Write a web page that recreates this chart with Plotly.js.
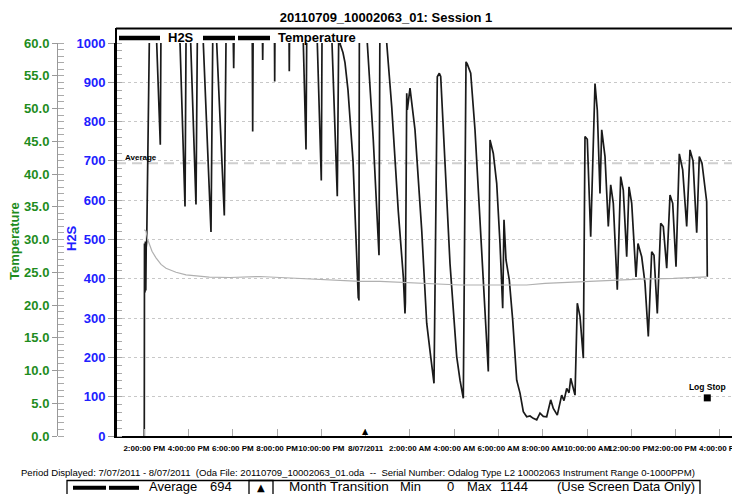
<!DOCTYPE html>
<html><head><meta charset="utf-8">
<script src="https://cdn.plot.ly/plotly-3.0.1.min.js"></script>
<style>html,body{margin:0;padding:0;background:#fff;}#chart{width:732px;height:494px;}</style>
</head><body><div id="chart"></div>
<script>
const chartTitle = '20110709_10002063_01: Session 1';
// hours since 7/07/2011 00:00
const timeHours = [
14.000,14.009,14.032,14.050,14.068,14.086,14.108,14.226,14.348,
14.560,14.723,14.750,15.161,
15.613,15.839,15.884,15.974,
16.096,16.335,16.394,16.516,
16.665,17.013,17.090,17.148,
17.270,17.614,17.690,17.826,
18.020,18.038,18.052,18.458,
18.878,18.896,18.914,19.136,
19.339,19.348,19.357,19.588,
19.881,19.890,19.899,20.220,
20.540,20.549,20.558,20.852,
21.182,21.304,21.335,21.575,
21.814,21.995,22.026,22.252,
22.478,22.717,22.781,22.862,22.975,23.065,23.201,23.427,23.594,23.666,23.680,23.693,23.716,23.924,
24.072,24.343,24.601,24.646,24.781,
24.949,25.175,25.473,25.699,25.775,25.793,25.853,25.880,26.001,26.227,26.530,26.756,26.936,27.085,
27.234,27.325,27.388,27.582,27.808,28.111,28.260,28.409,
28.531,28.590,28.743,28.937,29.240,29.434,29.538,
29.615,29.764,29.917,30.066,30.188,
30.247,30.337,30.486,30.640,30.699,30.821,30.970,31.119,31.272,31.421,31.570,31.724,31.873,32.022,32.175,
32.356,32.474,32.654,32.853,32.957,33.079,33.183,33.260,33.377,33.454,
33.558,33.680,33.829,33.905,34.009,34.163,34.357,34.461,34.583,34.660,34.809,34.958,
35.066,35.184,35.364,35.518,35.635,35.789,35.893,36.015,36.209,36.299,36.466,36.615,36.765,
36.918,37.022,37.171,37.325,37.442,37.596,37.745,37.867,38.016,38.165,38.318,38.499,
38.648,38.784,38.951,39.068,39.190,39.402,39.429
];
const h2sPpm = [
0,490,365,495,370,480,495,1000,1144,
1000,741,1000,1144,
1000,584,1000,1144,
1000,589,1000,1144,
1000,519,1000,1144,
1000,561,1000,1144,
1000,936,1000,1144,
1000,775,1000,1144,
1000,957,1000,1144,
1000,902,1000,1144,
1000,928,1000,1144,
1000,729,1000,1144,
1000,650,1000,1144,
1000,610,1020,995,975,950,880,700,480,350,385,345,1100,1144,
1000,753,460,1100,1144,
1000,838,571,405,312,340,872,830,885,779,524,287,202,134,
914,923,915,694,439,202,142,96,
952,946,923,779,482,270,164,
753,719,643,490,325,
550,448,397,295,240,142,109,62,49,51,45,41,58,50,49,
92,70,53,104,90,121,110,147,117,104,
338,304,198,762,755,507,897,829,617,779,711,533,
639,592,372,660,626,456,634,592,405,490,456,389,253,
469,460,312,541,533,427,613,592,431,718,677,533,
728,700,517,711,694,596,405
];
const tempTimeHours = [14.000,14.077,14.154,14.226,14.348,14.529,14.755,14.980,15.432,15.884,16.516,16.936,17.871,19.226,20.129,21.033,21.936,22.839,23.743,24.646,25.685,26.904,28.260,30.066,31.272,32.099,32.776,34.131,35.486,36.389,37.894,39.402];
const temperatureC = [31.5,31.3,30.0,29.2,28.2,27.2,26.2,25.6,25.0,24.6,24.4,24.25,24.2,24.35,24.2,24.05,23.8,23.7,23.6,23.6,23.45,23.2,23.05,23.05,23.05,23.3,23.4,23.7,23.8,23.95,24.05,24.3];
const tickHours = [14,16,18,20,22,24,26,28,30,32,34,36,38,40];
const tickLabels = ['2:00:00 PM','4:00:00 PM','6:00:00 PM','8:00:00 PM','10:00:00 PM','8/07/2011','2:00:00 AM','4:00:00 AM','6:00:00 AM','8:00:00 AM','10:00:00 AM','12:00:00 PM','2:00:00 PM','4:00:00 PM'];
const averagePpm = 694;
const minPpm = 0;
const maxPpm = 1144;
const monthTransitionHour = 24;
const logStopHour = 39.429;
const logStopPpm = 97;
const periodText = 'Period Displayed: 7/07/2011 - 8/07/2011  (Oda File: 20110709_10002063_01.oda  --  Serial Number: Odalog Type L2 10002063 Instrument Range 0-1000PPM)';

const W = 732, H = 494;
const PX = p => p / W;
const PY = p => (436 - p) / 393;
const FONT = 'Liberation Sans, Arial, Helvetica, sans-serif';
const GREEN = '#1e8c1e', BLUE = '#2020ff';

const traces = [
  {x: tempTimeHours, y: temperatureC, yaxis: 'y2', type: 'scatter', mode: 'lines',
   line: {color: '#b0b0b0', width: 1.2}, showlegend: false, hoverinfo: 'skip'},
  {x: timeHours, y: h2sPpm, type: 'scatter', mode: 'lines',
   line: {color: '#1a1a1a', width: 1.7}, showlegend: false, hoverinfo: 'skip'},
  {x: [logStopHour], y: [logStopPpm], type: 'scatter', mode: 'markers+text',
   marker: {symbol: 'square', size: 7, color: '#000'}, text: ['Log Stop'], textposition: 'top center',
   textfont: {family: FONT, size: 8.5, weight: 'bold', color: '#000'}, cliponaxis: false, showlegend: false}
];

const txt = (s, x, y, size, opts) => Object.assign({text: s, x: x, y: y, xref: 'paper', yref: 'paper',
  xanchor: 'left', yanchor: 'middle', showarrow: false, font: {family: FONT, size: size, color: '#000'}}, opts || {});

const BOXTOP = 480.5, ROW = 486.8, BS = 13;

const layout = {
  width: W, height: H,
  margin: {l: 0, r: 0, t: 43, b: 58, pad: 0},
  paper_bgcolor: '#fff', plot_bgcolor: '#fff',
  showlegend: false,
  title: {text: chartTitle, font: {family: FONT, size: 13, weight: 'bold', color: '#000'},
          x: 386 / W, xanchor: 'center', xref: 'container', y: 1 - 17 / H, yanchor: 'middle', yref: 'container'},
  xaxis: {domain: [116 / W, 1], range: [12.722, 40.545], tickmode: 'array', tickvals: tickHours, ticktext: tickLabels,
          ticks: 'inside', ticklen: 7, tickcolor: '#aaa', tickwidth: 1, showline: true, linecolor: '#000', linewidth: 2,
          showgrid: false, zeroline: false, tickangle: 0, ticklabelstandoff: 3, ticklabeloverflow: 'allow',
          tickfont: {family: FONT, size: 8, weight: 'bold', color: '#000'}},
  yaxis: {range: [0, 1000], dtick: 100, tick0: 0, showline: true, linecolor: '#000', linewidth: 2,
          ticks: 'outside', ticklen: 6, tickcolor: '#999', tickwidth: 1,
          minor: {dtick: 20, ticks: 'inside', ticklen: 6, tickcolor: '#aaa', tickwidth: 1, showgrid: false},
          showgrid: true, gridcolor: '#c8c8c8', gridwidth: 1, griddash: '3px,3px', zeroline: false,
          tickfont: {family: FONT, size: 13, weight: 'bold', color: BLUE}},
  yaxis2: {overlaying: 'y', anchor: 'free', position: 57 / W, side: 'left', range: [0, 60], dtick: 5, tick0: 0,
           tickformat: '.1f', showline: true, linecolor: '#999', linewidth: 1,
           ticks: 'outside', ticklen: 5, tickcolor: '#999', tickwidth: 1,
           minor: {dtick: 1, ticks: 'inside', ticklen: 6, tickcolor: '#aaa', tickwidth: 1, showgrid: false},
           showgrid: false, zeroline: false,
           tickfont: {family: FONT, size: 13, weight: 'bold', color: GREEN}},
  shapes: [
    {type: 'line', xref: 'x domain', yref: 'y', x0: 0, x1: 1, y0: averagePpm, y1: averagePpm, layer: 'below',
     line: {color: '#cfcfcf', width: 2, dash: '10px,6px'}},
    {type: 'line', xref: 'paper', yref: 'paper', x0: PX(116), x1: 1, y0: PY(28.5), y1: PY(28.5), line: {color: '#000', width: 2}},
    {type: 'line', xref: 'paper', yref: 'paper', x0: PX(116), x1: PX(116), y0: PY(437), y1: PY(28), line: {color: '#000', width: 2}},
    {type: 'line', xref: 'paper', yref: 'paper', x0: PX(119), x1: PX(160), y0: PY(38), y1: PY(38), line: {color: '#000', width: 4.5}},
    {type: 'line', xref: 'paper', yref: 'paper', x0: PX(203), x1: PX(235), y0: PY(38), y1: PY(38), line: {color: '#000', width: 4.5}},
    {type: 'line', xref: 'paper', yref: 'paper', x0: PX(238), x1: PX(270), y0: PY(38), y1: PY(38), line: {color: '#000', width: 4.5}},
    {type: 'rect', xref: 'paper', yref: 'paper', x0: PX(67), x1: PX(700), y0: PY(BOXTOP), y1: PY(500), line: {color: '#000', width: 1.3}},
    {type: 'rect', xref: 'paper', yref: 'paper', x0: PX(249), x1: PX(273), y0: PY(BOXTOP), y1: PY(500), line: {color: '#000', width: 1.3}},
    {type: 'line', xref: 'paper', yref: 'paper', x0: PX(73), x1: PX(106), y0: PY(ROW + 1), y1: PY(ROW + 1), line: {color: '#000', width: 4}},
    {type: 'line', xref: 'paper', yref: 'paper', x0: PX(109), x1: PX(139), y0: PY(ROW + 1), y1: PY(ROW + 1), line: {color: '#000', width: 4}}
  ],
  annotations: [
    txt('H2S', PX(166), PY(38), 13, {font: {family: FONT, size: 13, weight: 'bold', color: '#000'}}),
    txt('Temperature', PX(276), PY(38), 13, {font: {family: FONT, size: 13, weight: 'bold', color: '#000'}}),
    txt('Temperature', PX(15), PY(241), 13, {xanchor: 'center', textangle: -90, font: {family: FONT, size: 13, weight: 'bold', color: GREEN}}),
    txt('H2S', PX(71), PY(238), 13, {xanchor: 'center', textangle: -90, font: {family: FONT, size: 13, weight: 'bold', color: BLUE}}),
    {text: 'Average', x: PX(123), xref: 'paper', y: averagePpm, yref: 'y', xanchor: 'left', yanchor: 'bottom', yshift: -1,
     showarrow: false, font: {family: FONT, size: 8, weight: 'bold', color: '#000'}},
    {text: '▲', x: monthTransitionHour, xref: 'x', y: 0, yref: 'y', xanchor: 'center', yanchor: 'bottom', yshift: -2,
     showarrow: false, font: {family: 'DejaVu Sans', size: 8, color: '#000'}},
    txt(periodText, PX(19), PY(472.7), 9.55),
    txt('Average', PX(147), PY(ROW), BS),
    txt(String(averagePpm), PX(208), PY(ROW), BS),
    txt('▲', PX(261), PY(ROW + 1), 10, {xanchor: 'center', font: {family: 'DejaVu Sans', size: 10, color: '#000'}}),
    txt('Month Transition', PX(287), PY(ROW), 13.5),
    txt('Min', PX(398), PY(ROW), BS),
    txt(String(minPpm), PX(445), PY(ROW), BS),
    txt('Max', PX(465), PY(ROW), BS),
    txt(String(maxPpm), PX(498), PY(ROW), BS),
    txt('(Use Screen Data Only)', PX(555), PY(ROW), BS)
  ]
};

Plotly.newPlot('chart', traces, layout, {displayModeBar: false, staticPlot: true});
</script></body></html>
